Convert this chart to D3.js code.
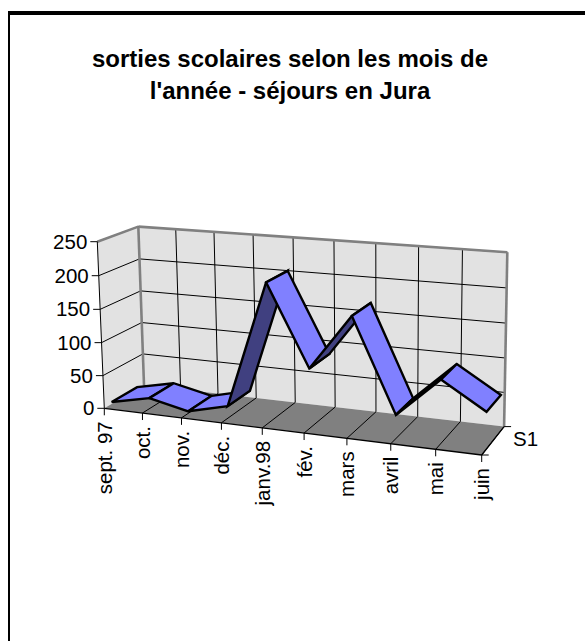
<!DOCTYPE html>
<html><head><meta charset="utf-8">
<style>html,body{margin:0;padding:0;background:#fff}svg{display:block}text{font-family:"Liberation Sans",Arial,sans-serif;fill:#000}</style>
<script src="https://cdn.jsdelivr.net/npm/d3@7/dist/d3.min.js"></script>
</head><body><svg id="c" width="585" height="641"></svg>
<script>
const categories = ["sept. 97","oct.","nov.","déc.","janv.98","fév.","mars","avril","mai","juin"];
const seriesS1 = [3,16,3,18,205,87,168,34,91,53];
const valueTicks = [0,50,100,150,200,250];
const seriesName = "S1";
const titleLines = ["sorties scolaires selon les mois de","l'année - séjours en Jura"];

const svg = d3.select("#c");
const sx = d3.scalePoint().domain(categories).range([0,1]);
const sy = d3.scaleLinear().domain([0,250]).range([0,1]);
const O=[104.3,408.3],X=[481.7,455],Y=[97.3,241.7],Z=[144,385];
const px=-0.1,py=-0.0246,pz=0.0543;
function proj(x,y,z){
  const w=1+px*x+py*y+pz*z;
  return [0,1].map(k=>O[k]+((X[k]-O[k])*(1+px)*x+(Y[k]-O[k])*(1+py)*y+(Z[k]-O[k])*(1+pz)*z)/w);
}
const line=d3.line();
const poly=(pts,fill,stroke,sw)=>svg.append("path").attr("d",line(pts)+"Z").attr("fill",fill).attr("stroke",stroke||"none").attr("stroke-width",sw||0).attr("stroke-linejoin","miter");
const seg=(a,b,stroke,sw)=>svg.append("path").attr("d",line([a,b])).attr("fill","none").attr("stroke",stroke).attr("stroke-width",sw);

// frame: only top and left edges are visible
svg.append("rect").attr("x",8).attr("y",11).attr("width",577).attr("height",4).attr("fill","#000");
svg.append("rect").attr("x",8).attr("y",11).attr("width",2).attr("height",630).attr("fill","#000");

// walls + floor
poly([proj(0,0,0),proj(0,1,0),proj(0,1,1),proj(0,0,1)],"#e2e2e2");
poly([proj(0,0,1),proj(0,1,1),proj(1,1,1),proj(1,0,1)],"#e2e2e2");
poly([proj(0,0,0),proj(1,0,0),proj(1,0,1),proj(0,0,1)],"#808080");

// gridlines
valueTicks.slice(1).forEach(v=>{const y=sy(v);
  seg(proj(0,y,0),proj(0,y,1),"#000",1);
  seg(proj(0,y,1),proj(1,y,1),"#000",1);
});
categories.forEach((c,i)=>{const x=sx(c);
  if(i>0&&i<categories.length-1) seg(proj(x,0,1),proj(x,1,1),"#000",1);
  if(i>0) seg(proj(x,0,0),proj(x,0,1),"#000",1);
});
// wall edges
[[proj(0,1,0),proj(0,1,1)],[proj(0,1,1),proj(1,1,1)],[proj(1,1,1),proj(1,0,1)],[proj(0,0,1),proj(0,1,1)]].forEach(e=>seg(e[0],e[1],"#808080",2.6));

// axes
seg(proj(0,0,0),proj(0,1,0),"#000",1);
seg(proj(0,0,0),proj(1,0,0),"#000",1.3);
seg(proj(1,0,0),proj(1,0,1),"#000",1.3);
valueTicks.forEach(v=>{const p=proj(0,sy(v),0);
  seg([p[0]-7,p[1]],p,"#000",1);
  svg.append("text").attr("x",p[0]-10).attr("y",p[1]+7).attr("text-anchor","end").attr("font-size",20.5).text(v);
});
categories.forEach(c=>{const p=proj(sx(c),0,0);
  seg(p,[p[0],p[1]+7],"#000",1);
  svg.append("text").attr("transform",`translate(${p[0]+7.4},${p[1]+13}) rotate(-90)`).attr("text-anchor","end").attr("font-size",20.5).text(c);
});
// depth axis tick + label
const q=proj(1,0,1), r=proj(1,0,0);
seg(q,[q[0]+7,q[1]],"#000",1);
seg(r,[r[0]+7,r[1]],"#000",1);
svg.append("text").attr("x",513).attr("y",446).attr("font-size",20.5).text(seriesName);

// ribbon
const zF=0.18,zB=0.82;
for(let i=0;i<categories.length-1;i++){
  const x0=sx(categories[i]),x1=sx(categories[i+1]),y0=sy(seriesS1[i]),y1=sy(seriesS1[i+1]);
  const q4=[proj(x0,y0,zF),proj(x1,y1,zF),proj(x1,y1,zB),proj(x0,y0,zB)];
  const under=d3.polygonArea(q4)<0;
  poly(q4,under?"#404080":"#8080ff","#000",2.4);
}

// title
titleLines.forEach((t,i)=>svg.append("text").attr("x",290).attr("y",67+i*32).attr("text-anchor","middle").attr("font-weight","bold").attr("font-size",24).text(t));
</script></body></html>
